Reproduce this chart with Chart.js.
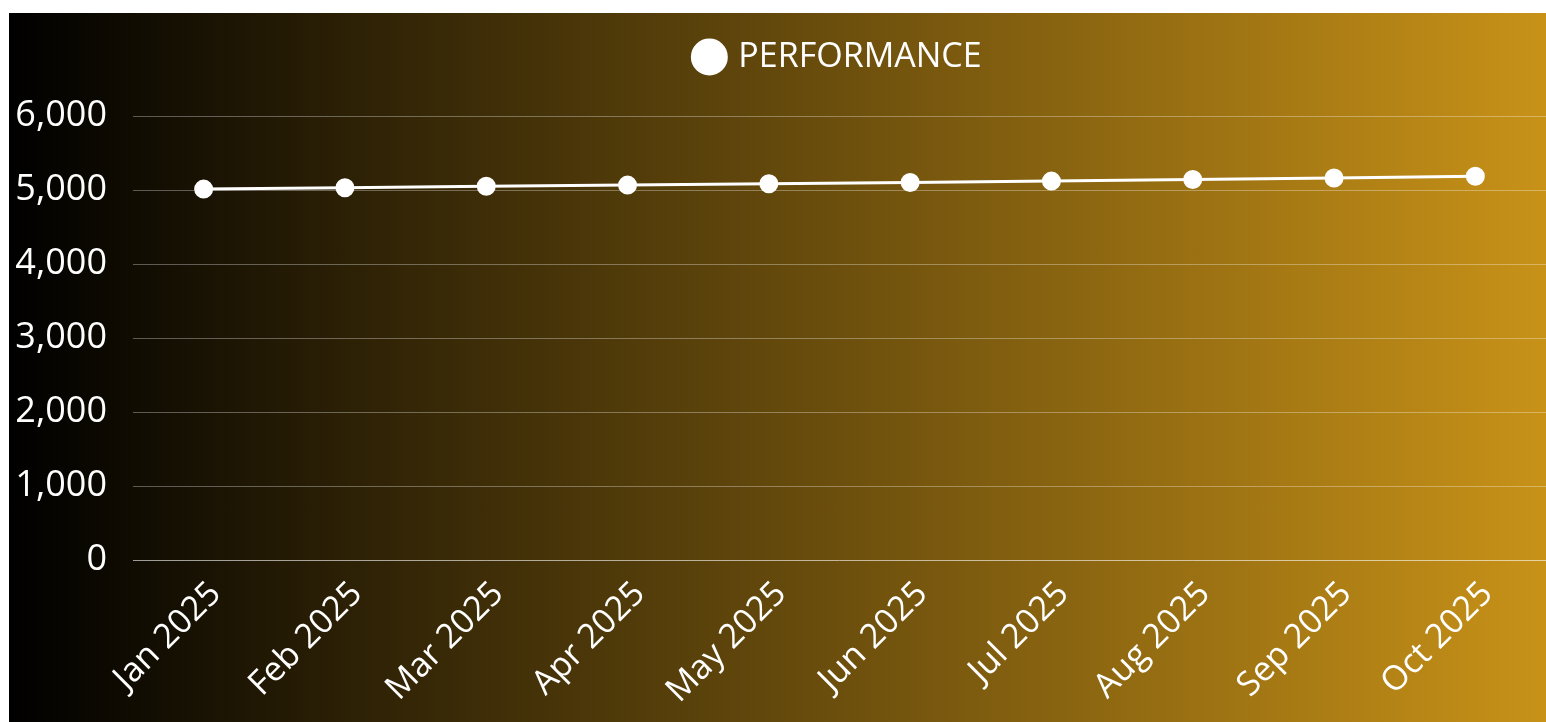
<!DOCTYPE html>
<html>
<head>
<meta charset="utf-8">
<script src="https://cdn.jsdelivr.net/npm/chart.js@4.4.1/dist/chart.umd.min.js"></script>
<style>
  html, body { margin: 0; padding: 0; background: #ffffff; width: 1546px; height: 722px; overflow: hidden; }
  #wrap {
    position: absolute; left: 9px; top: 13px; width: 1537px; height: 709px;
    background: linear-gradient(to right, #000000 0%, #c89218 100%);
  }
  canvas { display: block; }
</style>
</head>
<body>
<div id="wrap"><canvas id="c"></canvas></div>
<script>
const categories = ["Jan 2025", "Feb 2025", "Mar 2025", "Apr 2025", "May 2025", "Jun 2025", "Jul 2025", "Aug 2025", "Sep 2025", "Oct 2025"];
const performanceValues = [5012, 5030, 5050, 5066, 5085, 5102, 5120, 5142, 5162, 5185];
const seriesName = "PERFORMANCE";
const yTicks = [0, 1000, 2000, 3000, 4000, 5000, 6000];

const FONT = "'Open Sans', 'Noto Sans', sans-serif";

const legendSpacer = {
  id: 'legendSpacer',
  beforeInit(chart) {
    const origFit = chart.legend.fit;
    chart.legend.fit = function () {
      origFit.call(this);
      this.height += 32;
    };
  }
};

new Chart(document.getElementById('c'), {
  type: 'line',
  data: {
    labels: categories,
    datasets: [{
      label: seriesName,
      data: performanceValues,
      borderColor: '#ffffff',
      backgroundColor: '#ffffff',
      borderWidth: 3,
      pointRadius: 8,
      pointHoverRadius: 8,
      pointBackgroundColor: '#ffffff',
      pointBorderColor: '#ffffff',
      tension: 0,
      clip: false
    }]
  },
  plugins: [legendSpacer],
  options: {
    responsive: true,
    maintainAspectRatio: false,
    animation: false,
    layout: { padding: 0, autoPadding: false },
    plugins: {
      legend: {
        display: true,
        position: 'top',
        fullSize: false,
        labels: {
          color: '#ffffff',
          usePointStyle: true,
          pointStyle: 'circle',
          boxWidth: 24,
          boxHeight: 24,
          padding: 27,
          font: { family: FONT, size: 34 }
        }
      },
      tooltip: { enabled: false }
    },
    scales: {
      x: {
        type: 'category',
        offset: true,
        grid: { display: false, drawTicks: false },
        border: { display: false },
        afterFit: (axis) => { axis.paddingLeft = 0; axis.paddingRight = 0; axis.height = 162; },
        ticks: {
          color: '#ffffff',
          maxRotation: 45,
          minRotation: 45,
          padding: 14,
          labelOffset: 12,
          font: { family: FONT, size: 34 }
        }
      },
      y: {
        min: 0,
        max: 6000,
        afterBuildTicks: (axis) => { axis.ticks = yTicks.map(v => ({ value: v })); },
        afterFit: (axis) => { axis.width = 124; axis.paddingTop = 0; axis.paddingBottom = 0; },
        grid: {
          color: (ctx) => (ctx.tick && ctx.tick.value === 0) ? 'rgba(255,255,255,0.6)' : 'rgba(255,255,255,0.32)',
          drawTicks: false,
          lineWidth: 1
        },
        border: { display: false },
        ticks: {
          color: '#ffffff',
          padding: 26,
          font: { family: FONT, size: 36 },
          callback: (v) => v.toLocaleString('en-US')
        }
      }
    }
  }
});
</script>
</body>
</html>
